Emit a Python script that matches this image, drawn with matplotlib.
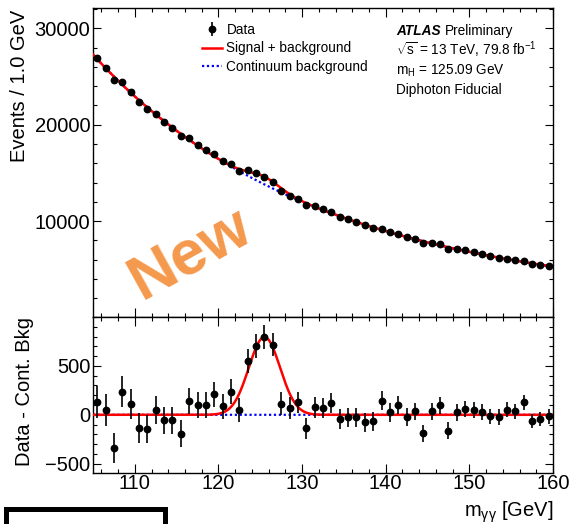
import numpy as np
import matplotlib
matplotlib.use('Agg')
import matplotlib.pyplot as plt
from matplotlib.lines import Line2D
from matplotlib.patches import Rectangle
from matplotlib.ticker import MultipleLocator, FixedLocator

plt.rcParams['font.family'] = ['Liberation Sans', 'DejaVu Sans']
plt.rcParams['mathtext.fontset'] = 'custom'
plt.rcParams['mathtext.rm'] = 'Liberation Sans'
plt.rcParams['mathtext.it'] = 'Liberation Sans:italic'
plt.rcParams['mathtext.bf'] = 'Liberation Sans:bold'

# ---------------- data ----------------
mass_centers = np.arange(105.5, 160.0, 1.0)   # 1 GeV bins, 105-160 GeV

# continuum background at the bin centres (events / 1 GeV)
background = [26797, 25874, 24989, 24138, 23321, 22536, 21782, 21057, 20360, 19690,
              19046, 18426, 17830, 17257, 16705, 16174, 15663, 15171, 14697, 14241,
              13802, 13379, 12972, 12579, 12200, 11836, 11484, 11145, 10818, 10503,
              10199, 9905, 9622, 9349, 9085, 8831, 8585, 8348, 8119, 7897,
              7684, 7477, 7277, 7085, 6898, 6718, 6544, 6375, 6212, 6055,
              5902, 5755, 5612, 5474, 5340]

# data minus continuum background
residual = [130, 51, -340, 238, 112, -136, -146, 51, -58, -58,
            -194, 140, 102, 100, 209, 85, 238, 51, 552, 707,
            793, 716, 115, 66, 126, -140, 78, 71, 119, -44,
            -27, -27, -75, -65, 143, 24, 102, -24, 34, -187,
            34, 99, -163, 24, 58, 51, 27, -17, -24, 54,
            37, 129, -65, -41, -17]

# signal component of the fit
signal_mass = [118.0, 118.5, 119.0, 119.5, 120.0, 120.5, 121.0, 121.5, 122.0, 122.5,
               123.0, 123.5, 124.0, 124.5, 125.0, 125.5, 126.0, 126.5, 127.0, 127.5,
               128.0, 128.5, 129.0, 129.5, 130.0, 130.5, 131.0, 131.5, 132.0, 132.5, 133.0]
signal = [0.2, 0.7, 1.9, 4.6, 10.5, 22, 44, 81, 138, 220,
          325, 449, 576, 689, 767, 795, 767, 689, 576, 449,
          325, 220, 138, 81, 44, 22, 10.5, 4.6, 1.9, 0.7, 0.2]

legend_labels = ['Data', 'Signal + background', 'Continuum background']
info_lines = [r'$\sqrt{\mathrm{s}}$ = 13 TeV, 79.8 fb$^{-1}$',
              r'm$_{\mathrm{H}}$ = 125.09 GeV',
              'Diphoton Fiducial']

data = np.array(background, float) + np.array(residual, float)
err = np.sqrt(data)

# smooth fit curves through the listed components
grid = np.linspace(105, 160, 1101)
bc = np.polyfit(mass_centers, np.log(background), 2)
bkg_curve = np.exp(np.polyval(bc, grid))
sm = np.array(signal_mass); sv = np.array(signal)
sel = sv > 1
sc = np.polyfit(sm[sel], np.log(sv[sel]), 2)
sig_curve = np.exp(np.polyval(sc, grid))

# ---------------- figure ----------------
W, H = 571, 524
fig = plt.figure(figsize=(W / 100, H / 100), dpi=100)
def fx(px): return px / W
def fy(py): return 1 - py / H

L, R = 93, 553
ax1 = fig.add_axes([fx(L), fy(317), fx(R) - fx(L), fy(8) - fy(317)])
ax2 = fig.add_axes([fx(L), fy(473), fx(R) - fx(L), fy(317) - fy(473)])

RED = '#ff0000'
BLUE = '#0000ff'
dot = (0, (1, 1.2))

# top panel
ax1.plot(grid, bkg_curve, color=BLUE, ls=dot, lw=1.6, zorder=2)
l_red, = ax1.plot(grid, bkg_curve + sig_curve, color=RED, lw=1.8, zorder=3)
eb = ax1.errorbar(mass_centers, data, yerr=err, fmt='o', color='black', ms=4.6,
                  elinewidth=1.2, capsize=0, zorder=4)
l_blue = Line2D([], [], color=BLUE, ls=dot, lw=1.6)

# bottom panel
ax2.plot(grid, bkg_curve - bkg_curve, color=BLUE, ls=dot, lw=1.6, zorder=2)
ax2.plot(grid, sig_curve, color=RED, lw=1.8, zorder=3)
ax2.errorbar(mass_centers, residual, yerr=err, fmt='o', color='black', ms=4.6,
             elinewidth=1.2, capsize=0, zorder=4)

TICKFS = 14.5
for ax in (ax1, ax2):
    ax.set_xlim(105, 160)
    ax.xaxis.set_major_locator(MultipleLocator(10))
    ax.xaxis.set_minor_locator(MultipleLocator(2))
    ax.tick_params(which='both', direction='in', top=True, right=True, width=0.8,
                   labelsize=TICKFS)
    ax.tick_params(axis='x', which='major', length=6.5)
    ax.tick_params(axis='x', which='minor', length=3.2)
    ax.tick_params(axis='y', which='major', length=5.8, pad=2)
    ax.tick_params(axis='y', which='minor', length=3.2)
    for s in ax.spines.values():
        s.set_linewidth(1.0)

ax1.set_ylim(50, 32100)
ax1.yaxis.set_major_locator(FixedLocator([10000, 20000, 30000]))
ax1.yaxis.set_minor_locator(MultipleLocator(2000))
ax1.tick_params(labelbottom=False)

ax2.set_ylim(-595, 1000)
ax2.yaxis.set_major_locator(FixedLocator([-500, 0, 500]))
ax2.yaxis.set_minor_locator(MultipleLocator(100))
ax2.tick_params(axis='x', pad=1)

# axis titles
fig.text(fx(25.5), fy(10), 'Events / 1.0 GeV', rotation=90, rotation_mode='anchor',
         ha='right', va='baseline', fontsize=TICKFS)
fig.text(fx(30), fy(317), 'Data - Cont. Bkg', rotation=90, rotation_mode='anchor',
         ha='right', va='baseline', fontsize=TICKFS)
fig.text(fx(553), fy(516.7), r'm$_{\mathrm{\gamma\gamma}}$ [GeV]', ha='right',
         va='baseline', fontsize=TICKFS)

# legend
SMALL = 9.8
ax1.legend([eb, l_red, l_blue], legend_labels, loc='upper left',
           bbox_to_anchor=(fx(202), fy(23)), bbox_transform=fig.transFigure,
           frameon=False, fontsize=SMALL, handlelength=1.5, handletextpad=0.3,
           labelspacing=0.33, borderpad=0, borderaxespad=0)

# ATLAS label
t_atlas = fig.text(fx(396), fy(35.3), 'ATLAS', fontsize=SMALL, fontweight='bold',
                   fontstyle='italic', va='baseline')
ax1.annotate('Preliminary', xy=(1, 0), xycoords=t_atlas, xytext=(3, 0),
             textcoords='offset points', va='bottom', ha='left', fontsize=SMALL)
for i, line in enumerate(info_lines):
    fig.text(fx(396), fy(55.0 + 19.7 * i), line, fontsize=SMALL, va='baseline')

# "New" stamp
fig.text(fx(190.5), fy(253.5), 'New', fontsize=45.5, fontweight='bold', color='#F4994C',
         rotation=29, ha='center', va='center')

# black box at bottom-left
fig.add_artist(Rectangle((fx(5.5), fy(545)), fx(164.5) - fx(5.5), fy(509.5) - fy(545),
                         fill=False, ec='black', lw=3.6, transform=fig.transFigure))

fig.savefig('out.png', dpi=100)
